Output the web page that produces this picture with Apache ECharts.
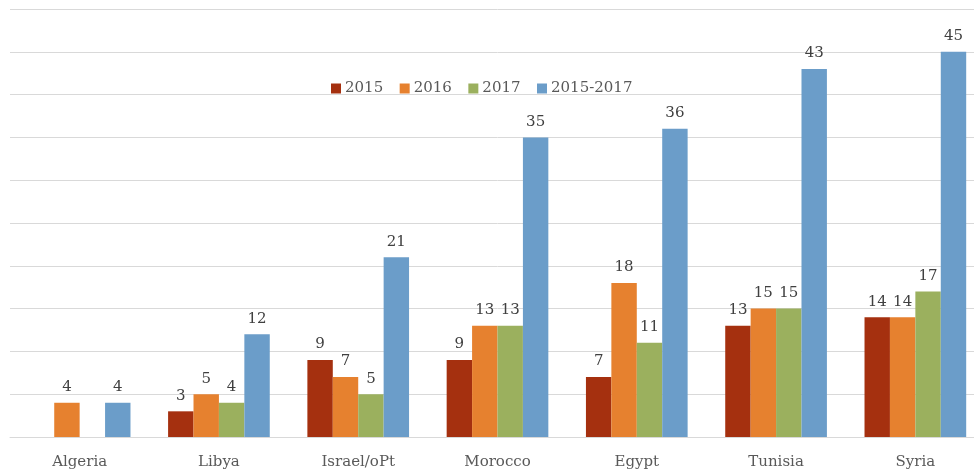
<!DOCTYPE html>
<html><head><meta charset="utf-8">
<script src="https://cdn.jsdelivr.net/npm/echarts@6/dist/echarts.min.js"></script>
<style>html,body{margin:0;padding:0;background:#fff;overflow:hidden;width:974px;height:470px}#c{width:985px;height:470px}</style>
</head><body><div id="c"></div>
<script>
const categories = ['Algeria','Libya','Israel/oPt','Morocco','Egypt','Tunisia','Syria'];
const seriesNames = ['2015','2016','2017','2015-2017'];
const v2015 = [null,3,9,9,7,13,14];
const v2016 = [4,5,7,13,18,15,14];
const v2017 = [null,4,5,13,11,15,17];
const vAll = [4,12,21,35,36,43,45];
const colors = ['#A5300F','#E6812F','#9BB05E','#6B9DC9'];
const font = 'DejaVu Serif';
const chart = echarts.init(document.getElementById('c'));
const data = [v2015,v2016,v2017,vAll];
chart.setOption({
  animation:false,
  textStyle:{fontFamily:font},
  grid:{left:10,right:0,top:9,bottom:33,containLabel:false},
  legend:{left:326,top:76,icon:'rect',itemWidth:10,itemHeight:10,itemGap:16.5,
    textStyle:{fontFamily:font,fontSize:15,color:'#595959',padding:[0,0,0,-1]},data:seriesNames},
  xAxis:{type:'category',data:categories,axisTick:{show:false},
    axisLine:{lineStyle:{color:'#d9d9d9'}},
    axisLabel:{fontFamily:font,fontSize:15,color:'#595959',margin:18}},
  yAxis:{type:'value',min:0,max:50,interval:5,axisLabel:{show:false},axisLine:{show:false},axisTick:{show:false},
    splitLine:{lineStyle:{color:'#d9d9d9',width:1}}},
  series:data.map((d,i)=>({name:seriesNames[i],type:'bar',data:d,barGap:'0%',barCategoryGap:'27%',
    itemStyle:{color:colors[i]},
    label:{show:true,position:'top',distance:8,fontFamily:font,fontSize:15,color:'#404040'}}))
});
</script></body></html>
